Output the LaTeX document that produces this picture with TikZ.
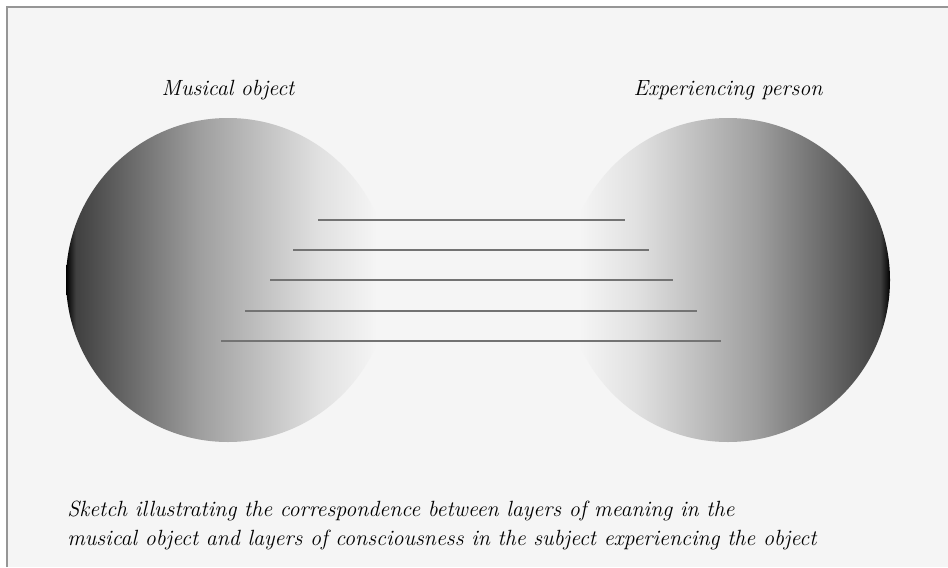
\documentclass[tikz,border=0pt]{standalone}
\usepackage{tikz}
\definecolor{paper}{RGB}{245,245,245}
\definecolor{frame}{RGB}{150,150,150}
\definecolor{layer}{RGB}{115,115,115}
\pgfdeclarehorizontalshading{objectshade}{100bp}{
    color(0bp)=(black); color(25bp)=(black);
    color(26.5bp)=(black!75); color(45.5bp)=(black!38);
    color(64bp)=(black!12); color(73bp)=(paper);
    color(100bp)=(paper)}
\pgfdeclarehorizontalshading{personshade}{100bp}{
    color(0bp)=(paper); color(27bp)=(paper);
    color(36bp)=(black!12); color(54.5bp)=(black!38);
    color(73.5bp)=(black!75); color(75bp)=(black);
    color(100bp)=(black)}
\tikzstyle{ball} = [
    circle,
    minimum size=243pt,
    inner sep=0pt,
    shade
]
\tikzstyle{label} = [
    font=\fontsize{16.5}{21.75}\selectfont\itshape,
    inner sep=0pt
]
\tikzstyle{layerline} = [draw=layer, line width=1.3pt]

\begin{document}
\begin{tikzpicture}[x=0.75pt, y=-0.75pt]
\useasboundingbox (0,0) rectangle (948,567);
\fill[white] (0,0) rectangle (948,567);
\fill[paper] (7,7) rectangle (948,567);
\draw[frame, line width=1.5pt] (7,567) -- (7,7) -- (948,7);

\node (object) [ball, shading=objectshade] at (228,280) {};
\node (person) [ball, shading=personshade] at (728,280) {};

\node (objtitle) [label, anchor=base] at (228,95) {Musical object};
\node (pertitle) [label, anchor=base] at (728,95) {Experiencing person};

% layers of meaning / layers of consciousness
\foreach \i/\y/\xa/\xb in {1/220/318/625, 2/250/293/649, 3/280/270/673,
                           4/311/245/697, 5/341/221/721} {
    \coordinate (m\i) at (\xa,\y);
    \coordinate (c\i) at (\xb,\y);
    \draw [layerline] (m\i) -- (c\i);
}

\node (caption) [label, anchor=base west, align=left] at (67,545)
{Sketch illustrating the correspondence between layers of meaning in the\\
musical object and layers of consciousness in the subject experiencing the object};

\end{tikzpicture}
\end{document}
